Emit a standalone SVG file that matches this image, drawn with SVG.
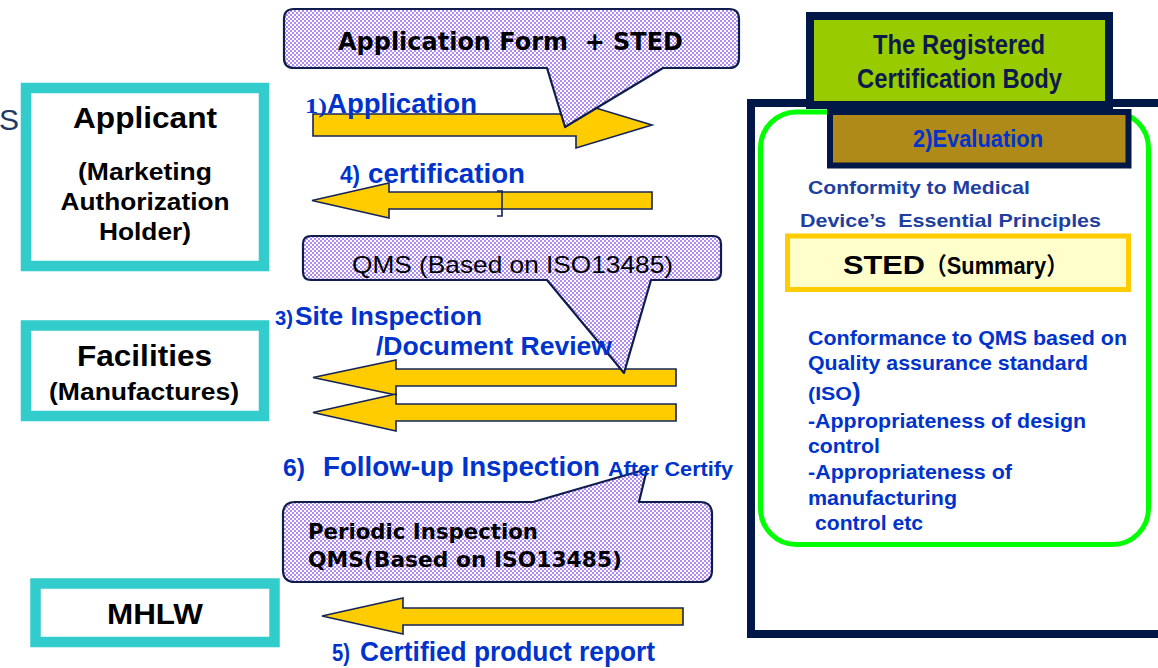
<svg xmlns="http://www.w3.org/2000/svg" width="1158" height="668" viewBox="0 0 1158 668">
<defs>
  <pattern id="chk" width="4" height="4" patternUnits="userSpaceOnUse">
    <rect width="4" height="4" fill="#ffffff"/>
    <rect width="2" height="2" fill="#b08af5"/>
    <rect x="2" y="2" width="2" height="2" fill="#b08af5"/>
  </pattern>
</defs>
<style>
  .bx{fill:#fff;stroke:#33cccc;stroke-width:10.5}
  .arr{fill:#ffcc00;stroke:#14245a;stroke-width:1.6;stroke-linejoin:miter}
  .call{fill:url(#chk);stroke:#0f1d4d;stroke-width:2.2;stroke-linejoin:round}
  .sb{font-family:"Liberation Sans",Arial,sans-serif;font-weight:bold}
  .sr{font-family:"Liberation Sans",Arial,sans-serif}
  .vb{font-family:"DejaVu Sans",Verdana,sans-serif;font-weight:bold}
  .blk{fill:#000}
  .blue{fill:#0033cc}
  .navy{fill:#1f3fa0}
  .mid{text-anchor:middle}
</style>
<rect width="1158" height="668" fill="#ffffff"/>

<text x="-1" y="130" class="sr" font-size="30" fill="#1f3864">S</text>

<g id="applicant">
  <rect class="bx" x="26" y="88" width="238" height="178"/>
  <text class="sb blk mid" x="145" y="128" font-size="29" textLength="144" lengthAdjust="spacingAndGlyphs">Applicant</text>
  <text class="sb blk mid" x="145" y="180" font-size="23" textLength="134" lengthAdjust="spacingAndGlyphs">(Marketing</text>
  <text class="sb blk mid" x="145" y="210" font-size="23" textLength="169" lengthAdjust="spacingAndGlyphs">Authorization</text>
  <text class="sb blk mid" x="145" y="240" font-size="23" textLength="92" lengthAdjust="spacingAndGlyphs">Holder)</text>
</g>

<g id="facilities">
  <rect class="bx" x="26" y="325.5" width="238" height="90.5"/>
  <text class="sb blk mid" x="144.5" y="366" font-size="29" textLength="135" lengthAdjust="spacingAndGlyphs">Facilities</text>
  <text class="sb blk mid" x="144" y="400" font-size="23" textLength="190" lengthAdjust="spacingAndGlyphs">(Manufactures)</text>
</g>

<g id="mhlw">
  <rect class="bx" x="35.5" y="583.5" width="239" height="58.5"/>
  <text class="sb blk mid" x="155" y="624" font-size="29" textLength="96" lengthAdjust="spacingAndGlyphs">MHLW</text>
</g>

<g id="certification-body">
  <rect x="751" y="103" width="412" height="531" fill="#ffffff" stroke="#001848" stroke-width="8"/>
  <rect x="760.5" y="112" width="388" height="432.5" rx="36" ry="36" fill="none" stroke="#00ff00" stroke-width="5"/>
  <rect x="810" y="16" width="299" height="89" fill="#99cc00" stroke="#001848" stroke-width="8"/>
  <text class="sb mid" x="959" y="54" font-size="27" fill="#0d1b4b" textLength="172" lengthAdjust="spacingAndGlyphs">The Registered</text>
  <text class="sb mid" x="959.5" y="88" font-size="27" fill="#0d1b4b" textLength="205" lengthAdjust="spacingAndGlyphs">Certification Body</text>
  <rect x="830" y="112" width="298.5" height="53.5" fill="#b08a18" stroke="#001848" stroke-width="6"/>
  <text class="sb blue" x="913" y="147" font-size="23" textLength="130" lengthAdjust="spacingAndGlyphs">2)Evaluation</text>
  <text class="sb navy" x="808" y="194" font-size="19" textLength="222" lengthAdjust="spacingAndGlyphs">Conformity to Medical</text>
  <text class="sb navy" x="800" y="227" font-size="19" textLength="301" lengthAdjust="spacingAndGlyphs" xml:space="preserve">Device’s  Essential Principles</text>
  <rect x="787.5" y="236" width="341" height="53.5" fill="#ffffcc" stroke="#ffcc00" stroke-width="5"/>
  <text class="sb blk" x="843" y="274" font-size="26" textLength="82" lengthAdjust="spacingAndGlyphs">STED</text>
  <text class="blk" x="925" y="274" font-size="24" font-weight="bold" font-family="'Liberation Sans','Noto Sans CJK JP',sans-serif" textLength="143" lengthAdjust="spacingAndGlyphs">（Summary）</text>
  <text class="sb blue" x="808" y="345" font-size="21" textLength="319" lengthAdjust="spacingAndGlyphs">Conformance to QMS based on</text>
  <text class="sb blue" x="808" y="370" font-size="21" textLength="280" lengthAdjust="spacingAndGlyphs">Quality assurance standard</text>
  <text class="sb blue" x="808" y="400" font-size="19" textLength="44" lengthAdjust="spacingAndGlyphs">(ISO</text>
  <text class="sb blue" x="852" y="401" font-size="26">)</text>
  <text class="sb blue" x="808" y="428" font-size="21" textLength="278" lengthAdjust="spacingAndGlyphs">-Appropriateness of design</text>
  <text class="sb blue" x="808" y="453" font-size="21" textLength="72" lengthAdjust="spacingAndGlyphs">control</text>
  <text class="sb blue" x="808" y="479" font-size="21" textLength="204" lengthAdjust="spacingAndGlyphs">-Appropriateness of</text>
  <text class="sb blue" x="808" y="505" font-size="21" textLength="149" lengthAdjust="spacingAndGlyphs">manufacturing</text>
  <text class="sb blue" x="815" y="530" font-size="21" textLength="108" lengthAdjust="spacingAndGlyphs">control etc</text>
</g>

<g id="connectors">
  <path class="arr" d="M313,114 H576 V102 L652,125 L576,148 V136 H313 Z"/>
  <path class="arr" d="M652,192 H389 V183 L312,200.5 L389,218 V209 H652 Z"/>
  <path d="M497,191 H502 V216 H497" fill="none" stroke="#14245a" stroke-width="1.6"/>
  <path class="arr" d="M676,369 H396 V360 L313,377.5 L396,395 V386 H676 Z"/>
  <path class="arr" d="M676,404 H396 V394 L313,412.5 L396,431 V421 H676 Z"/>
  <path class="arr" d="M683,608 H403 V598 L322,616 L403,634 V625 H683 Z"/>
</g>

<g id="callout-application">
  <path class="call" d="M294,9 H729 Q739,9 739,19 V58 Q739,68 729,68 H663 L565,127 L547,68 H294 Q284,68 284,58 V19 Q284,9 294,9 Z"/>
  <text class="vb blk" x="338" y="50" font-size="25" textLength="345" lengthAdjust="spacingAndGlyphs" xml:space="preserve">Application Form  + STED</text>
</g>

<g id="callout-qms">
  <path class="call" d="M311,236 H713 Q721,236 721,244 V272 Q721,280 713,280 H651 L624,373 L547,280 H311 Q303,280 303,272 V244 Q303,236 311,236 Z"/>
  <text class="sr blk" x="352" y="273" font-size="24" textLength="321" lengthAdjust="spacingAndGlyphs">QMS (Based on ISO13485)</text>
</g>

<g id="callout-periodic">
  <path class="call" d="M295,502 H533 L647,469 L639,502 H700 Q712,502 712,514 V570 Q712,582 700,582 H295 Q283,582 283,570 V514 Q283,502 295,502 Z"/>
  <text class="vb blk" x="308" y="539" font-size="21" textLength="230" lengthAdjust="spacingAndGlyphs">Periodic Inspection</text>
  <text class="vb blk" x="308" y="567" font-size="21" textLength="314" lengthAdjust="spacingAndGlyphs">QMS(Based on ISO13485)</text>
</g>

<g id="labels">
  <text x="305" y="113" font-family="'Liberation Serif',serif" font-weight="bold" font-size="22" class="blue" textLength="22" lengthAdjust="spacingAndGlyphs">1)</text>
  <text class="sb blue" x="327" y="113" font-size="27" textLength="150" lengthAdjust="spacingAndGlyphs">Application</text>
  <text class="sb blue" x="340" y="183" font-size="23" textLength="20" lengthAdjust="spacingAndGlyphs">4)</text>
  <text class="sb blue" x="368" y="183" font-size="27" textLength="157" lengthAdjust="spacingAndGlyphs">certification</text>
  <text class="sb blue" x="275" y="325" font-size="21" textLength="18" lengthAdjust="spacingAndGlyphs">3)</text>
  <text class="sb blue" x="295" y="325" font-size="26" textLength="187" lengthAdjust="spacingAndGlyphs">Site Inspection</text>
  <text class="sb blue" x="376" y="355" font-size="26" textLength="236" lengthAdjust="spacingAndGlyphs">/Document Review</text>
  <text class="sb blue" x="283" y="476" font-size="24" textLength="22" lengthAdjust="spacingAndGlyphs">6)</text>
  <text class="sb blue" x="323" y="476" font-size="27" textLength="277" lengthAdjust="spacingAndGlyphs">Follow-up Inspection</text>
  <text class="sb blue" x="608" y="476" font-size="21" textLength="125" lengthAdjust="spacingAndGlyphs">After Certify</text>
  <text class="sb blue" x="332" y="661" font-size="23" textLength="18" lengthAdjust="spacingAndGlyphs">5)</text>
  <text class="sb blue" x="360" y="661" font-size="27" textLength="295" lengthAdjust="spacingAndGlyphs">Certified product report</text>
</g>
</svg>
